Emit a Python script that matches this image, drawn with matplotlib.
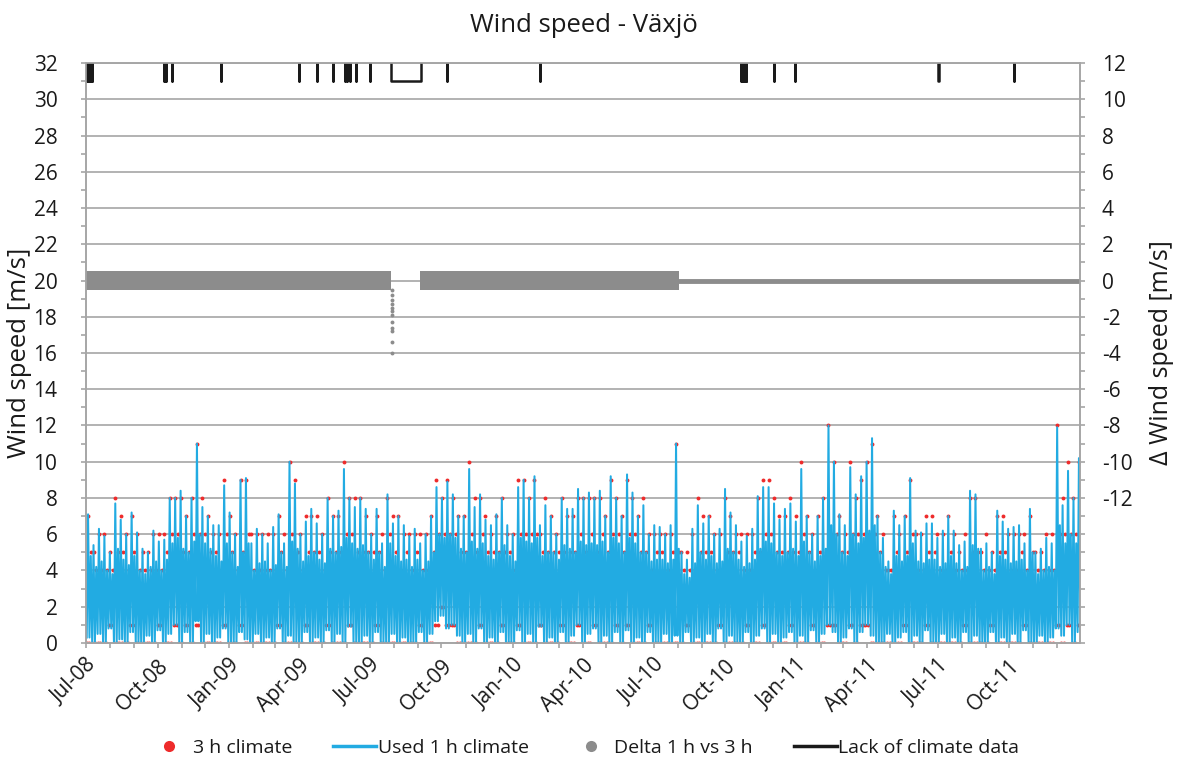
import numpy as np
import pandas as pd
import matplotlib
matplotlib.use('Agg')
import matplotlib.pyplot as plt
import matplotlib.dates as mdates
from matplotlib.ticker import MultipleLocator, FuncFormatter
from matplotlib.lines import Line2D

plt.rcParams['font.family'] = ['Open Sans', 'DejaVu Sans']

# weekly readings of the 1 h wind speed [m/s], Jul 2008 - Dec 2011
wind_high = [
    7.1, 5.4, 6.3, 5.9, 5.0, 7.7, 6.8, 6.0, 7.2, 6.1,
    5.2, 5.0, 6.2, 5.6, 5.7, 8.0, 8.0, 8.4, 7.0, 8.0,
    11.0, 7.5, 7.0, 6.5, 6.5, 8.7, 7.2, 6.0, 9.0, 9.1,
    5.5, 6.3, 6.0, 5.5, 6.4, 7.1, 5.5, 10.0, 8.8, 6.0,
    6.7, 7.4, 6.6, 6.0, 8.0, 7.0, 7.3, 9.6, 8.0, 7.5,
    8.0, 7.4, 6.0, 7.4, 5.5, 8.2, 6.6, 7.0, 6.5, 5.9,
    6.3, 5.5, 6.0, 7.0, 8.6, 8.0, 8.9, 8.2, 7.0, 7.0,
    9.6, 7.5, 8.2, 6.8, 6.5, 7.1, 8.0, 6.5, 6.0, 8.6,
    9.0, 8.0, 9.2, 6.5, 7.6, 7.0, 6.0, 8.0, 7.4, 7.4,
    8.5, 8.0, 8.3, 8.0, 8.4, 7.0, 9.2, 8.0, 7.0, 9.3,
    8.3, 7.0, 7.6, 6.0, 6.5, 6.4, 6.0, 6.5, 11.0, 5.0,
    4.6, 6.3, 7.6, 6.6, 7.0, 6.0, 6.3, 8.5, 7.2, 6.5,
    5.6, 5.9, 6.3, 8.1, 8.6, 8.6, 7.7, 6.8, 7.4, 7.7,
    6.7, 9.6, 7.0, 6.0, 7.0, 8.0, 12.0, 10.0, 7.1, 6.5,
    9.7, 8.2, 9.2, 10.0, 11.3, 7.0, 5.8, 4.5, 7.3, 6.5,
    7.0, 9.1, 6.2, 6.1, 6.6, 6.6, 5.8, 6.2, 7.0, 6.2,
    5.4, 5.6, 8.4, 8.2, 5.2, 5.5, 5.0, 7.3, 6.7, 6.3,
    6.4, 6.5, 5.5, 7.4, 5.0, 5.2, 5.8, 5.5, 11.9, 7.6,
    9.5, 8.0, 10.2,
]
wind_core = [
    4.8, 4.2, 4.5, 4.0, 3.8, 5.2, 4.6, 4.3, 4.8, 4.0,
    3.8, 4.2, 4.5, 4.0, 4.6, 5.5, 5.8, 5.2, 5.0, 5.6,
    6.0, 5.5, 5.2, 4.8, 4.5, 5.5, 5.0, 4.2, 5.0, 5.5,
    4.0, 4.4, 4.5, 4.0, 4.3, 5.0, 4.2, 5.6, 5.2, 4.5,
    4.8, 5.0, 4.6, 4.4, 5.2, 5.0, 5.3, 5.8, 5.5, 5.2,
    5.4, 5.0, 4.6, 5.0, 4.2, 5.5, 4.8, 4.5, 4.6, 4.2,
    4.6, 4.0, 4.5, 5.0, 6.0, 5.8, 6.0, 5.8, 5.2, 5.0,
    5.6, 5.2, 5.5, 4.8, 4.6, 5.0, 5.4, 4.8, 4.5, 5.8,
    5.6, 5.5, 5.8, 4.8, 5.0, 5.0, 4.6, 5.4, 5.2, 5.0,
    5.6, 5.4, 5.5, 5.4, 5.6, 5.0, 5.8, 5.5, 5.0, 5.8,
    5.5, 5.0, 5.0, 4.5, 4.6, 4.6, 4.4, 4.6, 5.2, 3.8,
    3.6, 4.4, 5.0, 4.6, 4.8, 4.4, 4.5, 5.2, 5.0, 4.6,
    4.2, 4.4, 4.6, 5.2, 5.6, 5.5, 5.0, 4.8, 5.0, 5.2,
    4.8, 5.6, 5.0, 4.5, 4.8, 5.2, 6.5, 6.0, 5.0, 4.8,
    6.0, 5.5, 5.8, 6.2, 6.5, 5.0, 4.2, 3.8, 4.8, 4.5,
    4.8, 5.5, 4.5, 4.4, 4.6, 4.6, 4.2, 4.4, 4.8, 4.4,
    4.0, 4.2, 5.4, 5.2, 4.0, 4.2, 3.8, 4.8, 4.6, 4.4,
    4.5, 4.6, 4.0, 5.0, 3.8, 4.0, 4.2, 4.0, 6.5, 5.5,
    6.0, 5.5, 6.0,
]
wind_low = [
    0.3, 0.0, 0.5, 0.0, 0.8, 0.0, 0.2, 0.0, 0.6, 0.0,
    0.0, 0.4, 0.0, 0.7, 0.0, 0.5, 1.0, 0.0, 0.6, 0.0,
    1.2, 0.0, 0.5, 0.0, 0.3, 0.8, 0.0, 0.0, 0.6, 0.2,
    0.0, 0.5, 0.0, 0.3, 0.0, 0.8, 0.0, 0.4, 0.0, 0.0,
    0.6, 0.0, 0.3, 0.0, 0.7, 0.0, 0.5, 0.0, 0.9, 0.0,
    0.0, 0.4, 0.0, 0.6, 0.0, 0.0, 0.5, 0.0, 0.3, 0.0,
    0.0, 0.6, 0.0, 0.5, 1.2, 1.5, 0.8, 1.0, 0.4, 0.0,
    0.5, 0.0, 0.8, 0.0, 0.3, 0.0, 0.6, 0.0, 0.0, 0.7,
    0.0, 0.5, 0.0, 0.9, 0.0, 0.3, 0.0, 0.6, 0.0, 0.4,
    1.0, 0.0, 0.5, 0.8, 0.0, 0.4, 0.0, 0.6, 0.0, 0.7,
    0.0, 0.3, 0.0, 0.6, 0.0, 0.0, 0.5, 0.0, 0.4, 0.0,
    0.6, 0.0, 0.3, 0.0, 0.5, 0.0, 0.8, 0.0, 0.4, 0.0,
    0.0, 0.6, 0.0, 0.4, 0.8, 0.0, 0.5, 0.0, 0.3, 0.6,
    0.0, 0.4, 0.0, 0.7, 0.0, 0.5, 1.0, 0.6, 0.0, 0.3,
    0.8, 0.0, 0.6, 1.0, 0.4, 0.0, 0.0, 0.5, 0.0, 0.3,
    0.6, 0.0, 0.4, 0.0, 0.7, 0.0, 0.0, 0.5, 0.0, 0.3,
    0.0, 0.6, 0.0, 0.4, 0.0, 0.0, 0.6, 0.0, 0.3, 0.0,
    0.5, 0.0, 0.7, 0.0, 0.0, 0.4, 0.0, 0.3, 0.8, 0.4,
    1.0, 0.0, 0.6,
]

# delta 1 h vs 3 h [m/s] (right axis)
delta_band_periods = [('2008-07-01', '2009-07-28'), ('2009-09-04', '2010-08-02')]
delta_band_low, delta_band_high = -0.55, 0.5
delta_zero_period = ('2010-08-02', '2011-12-31')
delta_dip_date = '2009-07-29'
delta_dip_values = [-0.5, -0.8, -1.1, -1.3, -1.5, -1.7, -1.9, -2.3, -2.6, -2.8, -3.4, -4.0]

# periods without climate data
lack_periods = [
    ('2008-07-02', '2008-07-02'), ('2008-07-03', '2008-07-03'), ('2008-07-04', '2008-07-04'),
    ('2008-07-05', '2008-07-05'), ('2008-07-06', '2008-07-06'), ('2008-07-07', '2008-07-07'),
    ('2008-07-08', '2008-07-08'), ('2008-07-09', '2008-07-09'),
    ('2008-10-09', '2008-10-09'), ('2008-10-10', '2008-10-10'), ('2008-10-12', '2008-10-12'),
    ('2008-10-19', '2008-10-19'), ('2008-12-21', '2008-12-21'),
    ('2009-04-01', '2009-04-01'), ('2009-04-24', '2009-04-24'), ('2009-05-15', '2009-05-15'),
    ('2009-05-30', '2009-05-30'), ('2009-06-02', '2009-06-02'), ('2009-06-05', '2009-06-05'),
    ('2009-06-13', '2009-06-13'), ('2009-07-01', '2009-07-01'),
    ('2009-07-28', '2009-09-05'), ('2009-10-08', '2009-10-08'), ('2010-02-05', '2010-02-05'),
    ('2010-10-21', '2010-10-21'), ('2010-10-22', '2010-10-22'), ('2010-10-23', '2010-10-23'),
    ('2010-10-24', '2010-10-24'), ('2010-10-25', '2010-10-25'), ('2010-10-26', '2010-10-26'),
    ('2010-10-27', '2010-10-27'), ('2010-10-28', '2010-10-28'),
    ('2010-12-02', '2010-12-02'), ('2010-12-29', '2010-12-29'),
    ('2011-07-02', '2011-07-02'), ('2011-10-07', '2011-10-07'),
]

red = '#ee2b2b'
blue = '#22abe2'
gray = '#8c8c8c'
axis_gray = '#a6a6a6'
text_col = '#1a1a1a'

fig = plt.figure(figsize=(11.77, 7.63), dpi=100)
ax = fig.add_axes([0.0731, 0.1573, 0.8445, 0.7601])
ax2 = ax.twinx()

# 1 h series: four readings per week (low, high, low, core)
weeks = pd.date_range('2008-07-01', periods=len(wind_high), freq='7D')
offs = pd.to_timedelta([0.9, 2.6, 4.4, 6.1], unit='D')
t = np.array([w + o for w in weeks for o in offs])
v = np.column_stack([wind_low, wind_high, wind_low, wind_core]).ravel()

ax.plot(t, np.round(v), 'o', color=red, ms=2.8, mew=0, zorder=2)
ax.plot(t, v, color=blue, lw=1.45, zorder=3)

# lack of climate data, drawn from 33 (clipped) down to 31
lx, ly = [], []
for s, e in lack_periods:
    s = mdates.date2num(pd.Timestamp(s))
    e = mdates.date2num(pd.Timestamp(e) + pd.Timedelta(hours=2))
    lx += [s, s, e, e, np.nan]
    ly += [33, 31, 31, 33, np.nan]
ax.plot(lx, ly, color=text_col, lw=1.8, zorder=4)

# delta series on the right axis
for s, e in delta_band_periods:
    ax2.fill_between([pd.Timestamp(s), pd.Timestamp(e)], delta_band_low, delta_band_high,
                     color=gray, lw=0, zorder=2)
ax2.plot([pd.Timestamp(delta_zero_period[0]), pd.Timestamp(delta_zero_period[1])], [0, 0],
         color=gray, lw=3.5, zorder=2)
ax2.plot([pd.Timestamp(delta_dip_date)] * len(delta_dip_values), delta_dip_values, 'o',
         color=gray, ms=2.8, mew=0, zorder=2)

# axes
ax.set_xlim(pd.Timestamp('2008-07-01'), pd.Timestamp('2011-12-31'))
ax.set_ylim(0, 32)
ax2.set_ylim(-20, 12)
ax.yaxis.set_major_locator(MultipleLocator(2))
ax.yaxis.set_minor_locator(MultipleLocator(1))
ax2.set_yticks(np.arange(-20, 13, 2))
ax2.yaxis.set_minor_locator(MultipleLocator(1))
ax2.yaxis.set_major_formatter(FuncFormatter(lambda y, p: '' if y < -12.5 else '%d' % y))
ax.xaxis.set_major_locator(mdates.MonthLocator(bymonth=[1, 4, 7, 10]))
ax.xaxis.set_minor_locator(mdates.MonthLocator())
ax.xaxis.set_major_formatter(mdates.DateFormatter('%b-%y'))

ax.grid(axis='y', color=axis_gray, lw=1.2, zorder=0)
ax.set_axisbelow(True)
for a in (ax, ax2):
    for sp in a.spines.values():
        sp.set_color(axis_gray)
        sp.set_linewidth(1.2)
    a.tick_params(which='both', direction='out', color=axis_gray, length=3.6, width=1.2,
                  labelsize=15, labelcolor=text_col, pad=12)
ax.tick_params(axis='y', which='both', pad=17)
ax.tick_params(axis='x', which='both', pad=5)
plt.setp(ax.get_xticklabels(), rotation=45, ha='right', va='top', rotation_mode='anchor')

ax.set_ylabel('Wind speed [m/s]', fontsize=18.5, color=text_col)
ax.yaxis.set_label_coords(-0.054, 0.5)
ax2.set_ylabel('Δ Wind speed [m/s]', fontsize=18, color=text_col, rotation=90)
ax2.yaxis.set_label_coords(1.069, 0.5)

fig.text(0.496, 0.967, 'Wind speed - Växjö', ha='center', va='center', fontsize=18.5,
         color=text_col)

handles = [
    Line2D([], [], ls='none', marker='o', color=red, ms=8, mew=0),
    Line2D([], [], color=blue, lw=2.5),
    Line2D([], [], ls='none', marker='o', color=gray, ms=8, mew=0),
    Line2D([], [], color=text_col, lw=2.5),
]
labels = ['3 h climate', 'Used 1 h climate', 'Delta 1 h vs 3 h', 'Lack of climate data']
fig.legend(handles, labels, loc='center', bbox_to_anchor=(0.496, 0.02), ncol=4,
           frameon=False, fontsize=14, handlelength=2.2, handletextpad=0.1,
           columnspacing=2.1, labelcolor=text_col)

fig.savefig('out.png', dpi=100)
